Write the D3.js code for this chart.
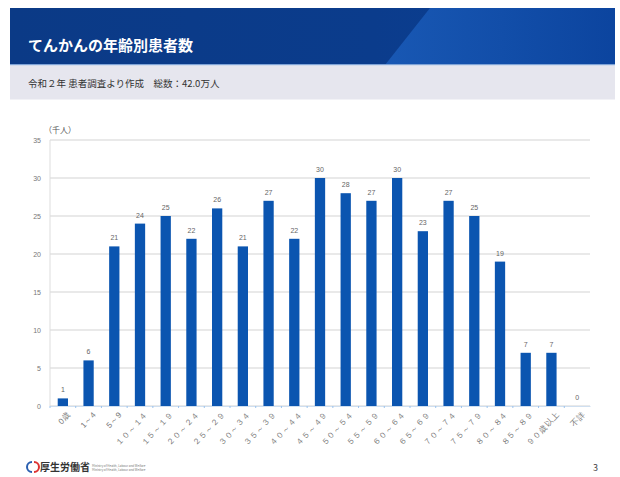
<!DOCTYPE html>
<html><head><meta charset="utf-8">
<script src="https://cdn.jsdelivr.net/npm/d3@7"></script>
<style>body{margin:0;background:#fff}svg{display:block}</style>
</head><body>
<script>
const categories = ["0歳","1～4","5～9","１０～１４","１５～１９","２０～２４","２５～２９","３０～３４","３５～３９","４０～４４","４５～４９","５０～５４","５５～５９","６０～６４","６５～６９","７０～７４","７５～７９","８０～８４","８５～８９","９０歳以上","不詳"];
const values = [1,6,21,24,25,22,26,21,27,22,30,28,27,30,23,27,25,19,7,7,0];
const yTicks = [0,5,10,15,20,25,30,35];

const W=620,H=477;
const svg=d3.select("body").append("svg").attr("width",W).attr("height",H)
  .style("font-family","'Noto Sans CJK JP','Noto Sans',sans-serif");

const defs=svg.append("defs");
const g1=defs.append("linearGradient").attr("id","hdr").attr("x1","0").attr("x2","1").attr("y1","0").attr("y2","0");
g1.append("stop").attr("offset","0").attr("stop-color","#0b3a86");
g1.append("stop").attr("offset","0.6").attr("stop-color","#0b3c8c");
g1.append("stop").attr("offset","1").attr("stop-color","#0a3f94");
svg.append("rect").attr("x",10).attr("y",8).attr("width",605).attr("height",57).attr("fill","url(#hdr)");
const g2=defs.append("linearGradient").attr("id","diag").attr("x1","0").attr("x2","1");
g2.append("stop").attr("offset","0").attr("stop-color","#1a5bb8");
g2.append("stop").attr("offset","1").attr("stop-color","#0c45a0");
svg.append("path").attr("d","M385,65 L430,8 L615,8 L615,65 Z").attr("fill","url(#diag)").attr("opacity",0.9);
svg.append("rect").attr("x",10).attr("y",64).attr("width",605).attr("height",1.5).attr("fill","#7fa3d6");
svg.append("rect").attr("x",10).attr("y",65.5).attr("width",605).attr("height",34).attr("fill","#e6e6ee");
svg.append("text").attr("x",28).attr("y",51).attr("fill","#fff").attr("font-size",15).attr("font-weight","bold").text("てんかんの年齢別患者数");
svg.append("text").attr("x",28).attr("y",87).attr("fill","#333").attr("font-size",9.5).text("令和２年 患者調査より作成　総数：42.0万人");

const m={l:50,r:590,t:140,b:406};
const x=d3.scaleBand().domain(categories).range([m.l,m.r]).paddingInner(0.6).paddingOuter(0.3);
const y=d3.scaleLinear().domain([0,35]).range([m.b,m.t]);

const grid=svg.append("g");
grid.selectAll("line").data(yTicks).join("line")
  .attr("x1",m.l).attr("x2",m.r).attr("y1",d=>y(d)).attr("y2",d=>y(d))
  .attr("stroke","#d4d4d4").attr("stroke-width",1.2);
svg.append("line").attr("x1",m.l).attr("x2",m.l).attr("y1",m.t).attr("y2",m.b).attr("stroke","#ddd");

const ya=svg.append("g").attr("transform",`translate(${m.l},0)`)
  .call(d3.axisLeft(y).tickValues(yTicks).tickSize(0).tickPadding(9));
ya.select(".domain").remove();
ya.selectAll("text").attr("fill","#777").attr("font-size",7).style("font-family","'Liberation Sans',sans-serif");

svg.append("text").attr("x",44).attr("y",133).attr("font-size",8).attr("fill","#555").text("（千人）");

svg.append("g").selectAll("rect").data(values).join("rect")
  .attr("x",(d,i)=>x(categories[i])).attr("width",x.bandwidth())
  .attr("y",d=>y(d)).attr("height",d=>y(0)-y(d)).attr("fill","#0b55b0");

svg.append("g").selectAll("text").data(values).join("text")
  .attr("x",(d,i)=>x(categories[i])+x.bandwidth()/2).attr("y",d=>y(d)-6)
  .attr("text-anchor","middle").attr("font-size",7).attr("fill","#666")
  .style("font-family","'Liberation Sans',sans-serif").text(d=>d);

const xa=svg.append("g").attr("transform",`translate(0,${m.b})`)
  .call(d3.axisBottom(x).tickSize(0).tickPadding(8));
xa.select(".domain").attr("stroke","#cfdff0");
xa.selectAll("text").attr("font-size",8).attr("fill","#777")
  .attr("letter-spacing","0.6px")
  .attr("text-anchor","end").attr("dx","-0.1em").attr("dy","0.5em")
  .attr("transform","rotate(-47)");
svg.append("g").selectAll("line").data(categories).join("line")
  .attr("x1",d=>x(d)-x.step()*0.3).attr("x2",d=>x(d)-x.step()*0.3)
  .attr("y1",m.b).attr("y2",m.b+2).attr("stroke","#9cc3ec");

// footer
const f=svg.append("g").attr("transform","translate(28,467)");
f.append("path").attr("d","M4,-5 A5,5 0 0,0 4,5").attr("fill","none").attr("stroke","#2a5fb0").attr("stroke-width",2);
f.append("path").attr("d","M6,-5 A5,5 0 0,1 6,5").attr("fill","none").attr("stroke","#d33").attr("stroke-width",2);
f.append("text").attr("x",12).attr("y",4).attr("font-size",10).attr("font-weight","bold").attr("fill","#333").text("厚生労働省");
f.append("text").attr("x",64).attr("y",0).attr("font-size",3).attr("fill","#777").text("Ministry of Health, Labour and Welfare");
f.append("text").attr("x",64).attr("y",4).attr("font-size",3).attr("fill","#777").text("Ministry of Health, Labour and Welfare");
svg.append("text").attr("x",593).attr("y",471).attr("font-size",9).attr("fill","#444").text("3");
</script>
</body></html>
